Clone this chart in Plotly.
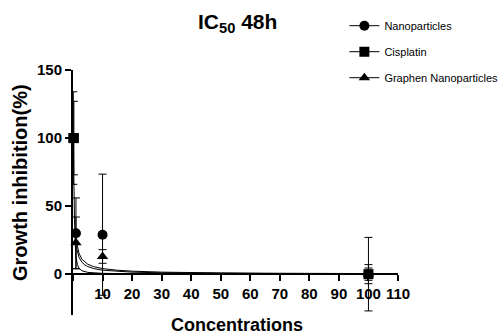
import plotly.graph_objects as go

# measured points
nano_x = [1, 10, 100]
nano_y = [30, 29, 0]
nano_err = [26, 44.5, 27]

cis_x = [0.1, 0.3, 100]
cis_y = [100, 100, 0]
cis_err = [34, 27, 7]

graph_x = [1, 10, 100]
graph_y = [23, 13, 0]
graph_err = [19, 5, 4.5]

# fitted curves
fit_x = [1, 1.5, 2, 3, 4, 5, 7, 10, 15, 20, 30, 40, 50, 70, 100]
nano_fit = [26, 19.5, 15.5, 11, 8.8, 7.3, 5.5, 4.1, 2.9, 2.2, 1.5, 1.1, 0.9, 0.65, 0.45]
graph_fit = [21, 15.5, 12.5, 8.8, 6.8, 5.6, 4.1, 2.9, 2.0, 1.5, 1.0, 0.75, 0.6, 0.4, 0.3]
cis_fit_x = [0.1, 0.2, 0.3, 0.5, 0.8, 1, 1.5, 2, 3, 5, 10, 20, 50, 100]
cis_fit = [100, 75, 60, 40, 20, 13, 7, 4.5, 2.5, 1.3, 0.6, 0.3, 0.1, 0.05]

x_ticks = [0, 10, 20, 30, 40, 50, 60, 70, 80, 90, 100, 110]
x_ticktext = ["", "10", "20", "30", "40", "50", "60", "70", "80", "90", "100", "110"]
y_ticks = [0, 50, 100, 150]
y_ticktext = ["0", "50", "100", "150"]

names = ["Nanoparticles", "Cisplatin", "Graphen Nanoparticles"]
symbols = ["circle", "square", "triangle-up"]

FONT = "Liberation Sans, Arial"

fig = go.Figure()

# fit curves
for fx, fy in [(fit_x, nano_fit), (fit_x, graph_fit), (cis_fit_x, cis_fit)]:
    fig.add_trace(go.Scatter(x=fx, y=fy, mode="lines", line=dict(color="black", width=1),
                             showlegend=False, hoverinfo="skip", cliponaxis=False))

# data with error bars
for xs, ys, es, sym in [(nano_x, nano_y, nano_err, "circle"),
                        (cis_x, cis_y, cis_err, "square"),
                        (graph_x, graph_y, graph_err, "triangle-up")]:
    fig.add_trace(go.Scatter(
        x=xs, y=ys, mode="markers",
        marker=dict(symbol=sym, size=10, color="black"),
        error_y=dict(type="data", array=es, visible=True, color="black", thickness=1, width=4),
        showlegend=False, cliponaxis=False))

# legend entries
for nm, sym in zip(names, symbols):
    fig.add_trace(go.Scatter(x=[None], y=[None], mode="lines+markers", name=nm,
                             legendgroup=nm,
                             line=dict(color="black", width=1),
                             marker=dict(symbol=sym, size=10, color="black")))

tickfont = dict(family=FONT, size=15, color="black")

fig.update_layout(
    width=503, height=336,
    margin=dict(l=73, r=105, t=70, b=21, autoexpand=False),
    paper_bgcolor="white", plot_bgcolor="white",
    showlegend=True,
    legend=dict(x=0.835, y=1.24, xanchor="left", yanchor="top",
                font=dict(family=FONT, size=11, color="black"),
                tracegroupgap=7, bgcolor="rgba(0,0,0,0)"),
    xaxis=dict(range=[0, 110], tickvals=x_ticks,
               ticktext=["<b>%s</b>" % t if t else "" for t in x_ticktext],
               anchor="free", position=30 / 180, automargin=False,
               showline=True, linecolor="black", linewidth=2,
               ticks="outside", ticklen=6, tickwidth=2, tickcolor="black",
               tickfont=tickfont, showgrid=False, zeroline=False),
    yaxis=dict(range=[-30, 150], tickvals=y_ticks,
               ticktext=["<b>%s</b>" % t for t in y_ticktext], automargin=False,
               showline=True, linecolor="black", linewidth=2,
               ticks="outside", ticklen=6, tickwidth=2, tickcolor="black",
               tickfont=tickfont, showgrid=False, zeroline=False),
    annotations=[
        dict(text="<b>IC<sub>50</sub> 48h</b>", x=0.505, y=1.19, xref="paper", yref="paper",
             xanchor="center", yanchor="middle",
             showarrow=False, font=dict(family=FONT, size=21, color="black")),
        dict(text="<b>Growth inhibition(%)</b>", x=-0.163, y=0.539, xref="paper", yref="paper",
             xanchor="center", yanchor="middle",
             textangle=-90, showarrow=False,
             font=dict(family=FONT, size=20, color="black")),
        dict(text="<b>Concentrations</b>", x=0.505, y=-0.041, xref="paper", yref="paper",
             xanchor="center", yanchor="middle",
             showarrow=False, font=dict(family=FONT, size=18, color="black")),
    ],
)

fig.write_html("out.html")
